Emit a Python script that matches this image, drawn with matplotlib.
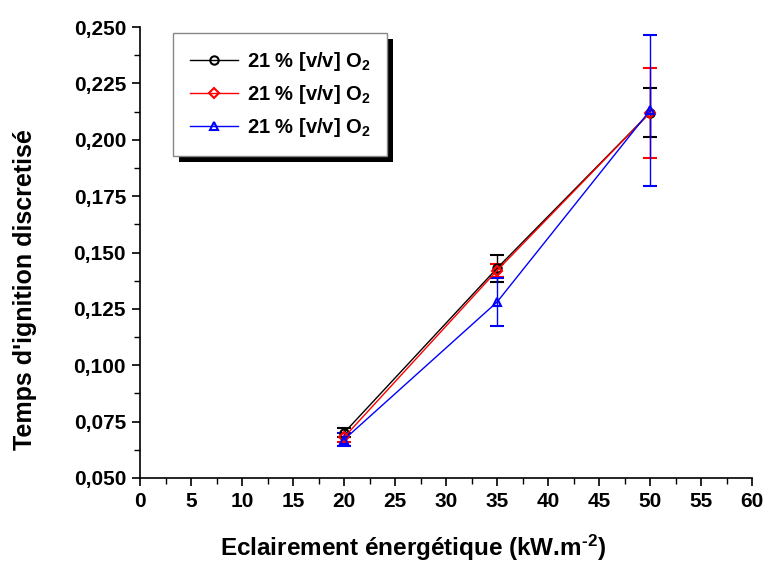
import matplotlib
matplotlib.use("Agg")
import matplotlib.pyplot as plt
from matplotlib.ticker import MultipleLocator, FuncFormatter
from matplotlib.patches import Rectangle
from matplotlib.transforms import IdentityTransform

plt.rcParams['font.family'] = ['Liberation Sans', 'DejaVu Sans']
plt.rcParams['font.weight'] = 'bold'
plt.rcParams['mathtext.fontset'] = 'custom'
plt.rcParams['mathtext.rm'] = 'Liberation Sans:bold'
plt.rcParams['mathtext.bf'] = 'Liberation Sans:bold'
plt.rcParams['mathtext.default'] = 'bf'

# Data
flux = [20, 35, 50]
labels = ['21 % [v/v] O$_2$', '21 % [v/v] O$_2$', '21 % [v/v] O$_2$']
black_y = [0.070, 0.143, 0.212]
black_err = [0.002, 0.006, 0.011]
red_y = [0.068, 0.142, 0.212]
red_err = [0.002, 0.003, 0.020]
blue_y = [0.067, 0.128, 0.213]
blue_err = [0.003, 0.0105, 0.0335]

fig = plt.figure(figsize=(7.65, 5.62), dpi=100)
ax = fig.add_axes([140/765, 1-478/562, 612/765, 451/562])

series = [
    (black_y, black_err, 'black', 'o'),
    (red_y, red_err, 'red', 'D'),
    (blue_y, blue_err, 'blue', '^'),
]
handles = []
for (y, e, c, m), lab in zip(series, labels):
    ms = 6 if m != 'D' else 5.5
    cont = ax.errorbar(flux, y, yerr=e, color=c, marker=m, mfc='none', mec=c,
                       ms=ms, mew=1.5, lw=1.0, elinewidth=1.0, capsize=5,
                       capthick=1.0, label=lab)
    handles.append(cont[0])

ax.set_xlim(0, 60)
ax.set_ylim(0.05, 0.25)
ax.xaxis.set_major_locator(MultipleLocator(5))
ax.xaxis.set_minor_locator(MultipleLocator(2.5))
ax.yaxis.set_major_locator(MultipleLocator(0.025))
ax.yaxis.set_minor_locator(MultipleLocator(0.0125))
ax.yaxis.set_major_formatter(FuncFormatter(lambda v, p: f"{v:.3f}".replace('.', ',')))
ax.spines['top'].set_visible(False)
ax.spines['right'].set_visible(False)
for s in ['left', 'bottom']:
    ax.spines[s].set_linewidth(1.2)
ax.tick_params(which='major', direction='out', length=6, width=1.2, labelsize=15, pad=4)
ax.tick_params(which='minor', direction='out', length=4, width=1.0)
for lbl in ax.get_xticklabels() + ax.get_yticklabels():
    lbl.set_fontweight('bold')

ax.set_xlabel('Eclairement énergétique (kW.m$^{\u2010 2}$)', fontsize=17.5, fontweight='bold')
ax.set_ylabel("Temps d'ignition discretisé", fontsize=18, fontweight='bold')
ax.xaxis.set_label_coords(0.446, -0.155)
ax.xaxis.label.set_va('center')
ax.yaxis.set_label_coords(-0.188, 0.417)
ax.yaxis.label.set_va('center')

leg = ax.legend(handles, labels, loc='upper left', bbox_to_anchor=(0.054, 0.987),
                frameon=True, fancybox=False, edgecolor='#888888', facecolor='white',
                framealpha=1.0, fontsize=14.5,
                handlelength=2.4, borderpad=0.85, labelspacing=0.5, handletextpad=0.4,
                borderaxespad=0)
leg.get_frame().set_linewidth(1.0)
leg.set_zorder(5)

fig.canvas.draw()
bb = leg.get_window_extent()
off = 6
shadow = Rectangle((bb.x0 + off, bb.y0 - off), bb.width, bb.height,
                   transform=IdentityTransform(), facecolor='black', edgecolor='none',
                   zorder=4, clip_on=False)
ax.add_artist(shadow)

fig.savefig('out.png', dpi=100)
